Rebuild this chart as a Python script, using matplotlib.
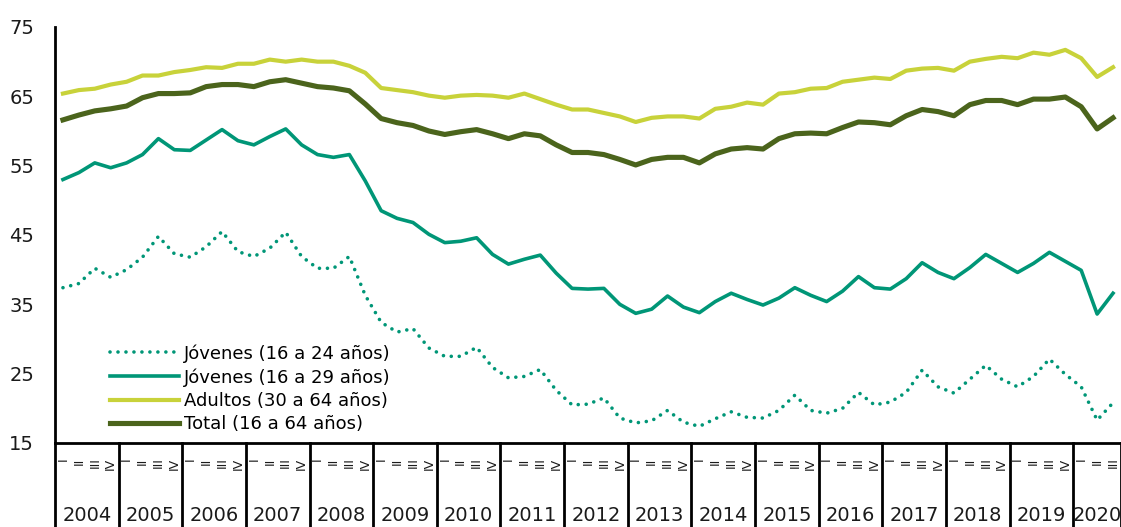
import matplotlib.pyplot as plt
import matplotlib.transforms as mtransforms

# years and quarters (2004-I to 2020-III)
years = [str(y) for y in range(2004, 2021)]
quarters_per_year = [4] * 16 + [3]
quarter_names = ["I", "II", "III", "IV"]

jov_16_24 = [37.4, 38.0, 40.2, 38.9, 40.0, 41.8, 44.8, 42.3, 41.8, 43.3, 45.5, 42.6,
             41.9, 43.1, 45.4, 41.9, 40.2, 40.2, 41.9, 36.3, 32.4, 31.0, 31.5, 28.7,
             27.5, 27.5, 28.8, 25.9, 24.4, 24.6, 25.6, 22.6, 20.5, 20.6, 21.5, 18.6,
             17.9, 18.2, 19.7, 18.0, 17.4, 18.5, 19.5, 18.7, 18.6, 19.7, 21.9, 19.7,
             19.3, 20.0, 22.3, 20.5, 20.9, 22.3, 25.5, 23.1, 22.2, 24.2, 26.2, 24.2,
             23.1, 24.6, 27.1, 24.9, 23.1, 18.3, 20.8]

jov_16_29 = [53.0, 54.0, 55.4, 54.7, 55.4, 56.6, 58.9, 57.3, 57.2, 58.7, 60.2, 58.6,
             58.0, 59.2, 60.3, 58.0, 56.6, 56.2, 56.6, 52.8, 48.5, 47.4, 46.8, 45.1,
             43.9, 44.1, 44.6, 42.2, 40.8, 41.5, 42.1, 39.5, 37.3, 37.2, 37.3, 35.0,
             33.7, 34.3, 36.2, 34.6, 33.8, 35.4, 36.6, 35.7, 34.9, 35.9, 37.4, 36.3,
             35.4, 36.9, 39.0, 37.4, 37.2, 38.7, 41.0, 39.6, 38.7, 40.3, 42.2, 40.9,
             39.6, 40.9, 42.5, 41.2, 39.9, 33.6, 36.6]

adultos = [65.4, 65.9, 66.1, 66.7, 67.1, 68.0, 68.0, 68.5, 68.8, 69.2, 69.1, 69.7,
           69.7, 70.3, 70.0, 70.3, 70.0, 70.0, 69.4, 68.4, 66.2, 65.9, 65.6, 65.1,
           64.8, 65.1, 65.2, 65.1, 64.8, 65.4, 64.6, 63.8, 63.1, 63.1, 62.6, 62.1,
           61.3, 61.9, 62.1, 62.1, 61.8, 63.2, 63.5, 64.1, 63.8, 65.4, 65.6, 66.1,
           66.2, 67.1, 67.4, 67.7, 67.5, 68.7, 69.0, 69.1, 68.7, 70.0, 70.4, 70.7,
           70.5, 71.3, 71.0, 71.7, 70.5, 67.8, 69.2]

total = [61.6, 62.3, 62.9, 63.2, 63.6, 64.8, 65.4, 65.4, 65.5, 66.4, 66.7, 66.7,
         66.4, 67.1, 67.4, 66.9, 66.4, 66.2, 65.8, 63.9, 61.8, 61.2, 60.8, 60.0,
         59.5, 59.9, 60.2, 59.6, 58.9, 59.6, 59.3, 58.0, 56.9, 56.9, 56.6, 55.9,
         55.1, 55.9, 56.2, 56.2, 55.4, 56.7, 57.4, 57.6, 57.4, 58.9, 59.6, 59.7,
         59.6, 60.5, 61.3, 61.2, 60.9, 62.2, 63.1, 62.8, 62.2, 63.8, 64.4, 64.4,
         63.8, 64.6, 64.6, 64.9, 63.5, 60.3, 61.9]

teal = "#009677"
lime = "#c8d23a"
olive = "#4b641c"

x = list(range(len(total)))

fig = plt.figure(figsize=(11.21, 5.27), dpi=100)
ax = fig.add_axes([55 / 1121, 84 / 527, 1066 / 1121, 416 / 527])

ax.plot(x, jov_16_24, color=teal, lw=2.6, linestyle=(0, (0.01, 2.2)),
        dash_capstyle="round", label="Jóvenes (16 a 24 años)")
ax.plot(x, jov_16_29, color=teal, lw=2.6, solid_joinstyle="round",
        label="Jóvenes (16 a 29 años)")
ax.plot(x, adultos, color=lime, lw=3.0, solid_joinstyle="round",
        label="Adultos (30 a 64 años)")
ax.plot(x, total, color=olive, lw=3.7, solid_joinstyle="round",
        label="Total (16 a 64 años)")

ax.set_xlim(-0.5, len(x) - 0.5)
ax.set_ylim(15, 75)
ax.set_yticks(range(15, 76, 10))
ax.tick_params(axis="y", length=0, pad=15, labelsize=14, colors="#1a1a1a")
ax.set_xticks([])

for s in ["top", "right"]:
    ax.spines[s].set_visible(False)
ax.spines["left"].set_linewidth(2)
ax.spines["bottom"].set_linewidth(2)

# category axis: quarters and years below the plot
trans = mtransforms.blended_transform_factory(ax.transData, ax.transAxes)
start = -0.5
ax.plot([start, start], [0, -0.21], color="black", lw=2, transform=trans, clip_on=False)
i = 0
for year, nq in zip(years, quarters_per_year):
    for q in range(nq):
        ax.text(i, -0.035, quarter_names[q], rotation=90, ha="center", va="top",
                fontsize=9, transform=trans, color="#1a1a1a")
        i += 1
    end = start + nq
    ax.plot([end, end], [0, -0.21], color="black", lw=2, transform=trans, clip_on=False)
    ax.text((start + end) / 2, -0.175, year, ha="center", va="center",
            fontsize=14, transform=trans, color="#1a1a1a")
    start = end

ax.legend(loc="upper left", bbox_to_anchor=(0.045, 0.255), frameon=False,
          fontsize=13, handlelength=3.8, handletextpad=0.3, labelspacing=0.3,
          borderaxespad=0)

fig.savefig("out.png", dpi=100)
